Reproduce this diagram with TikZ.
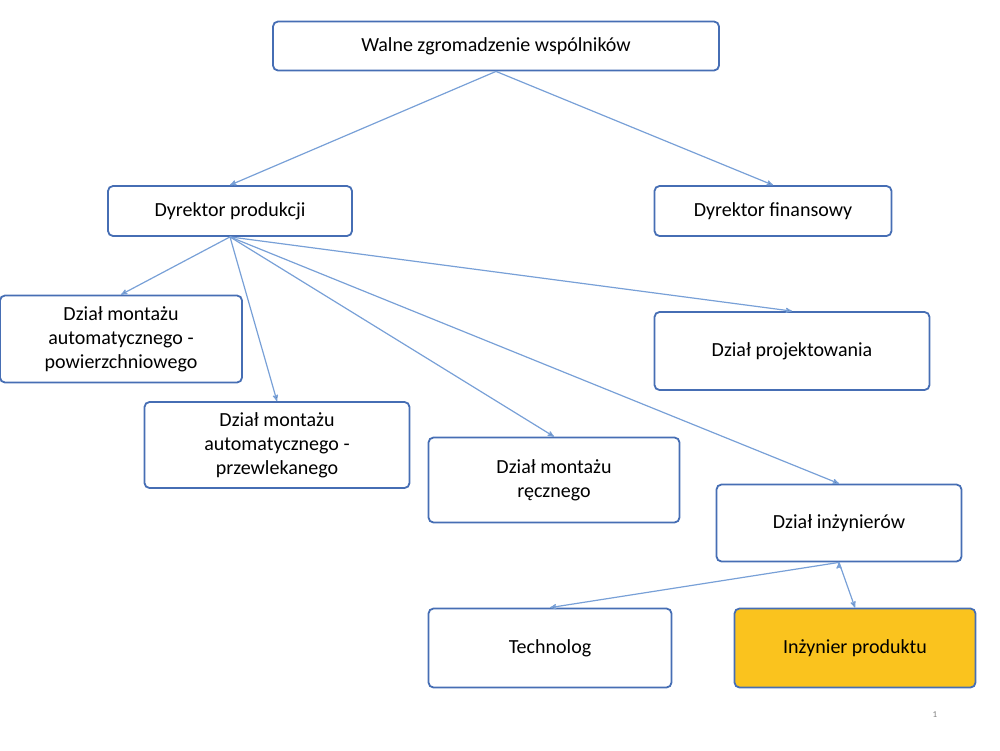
\documentclass[tikz,border=0pt]{standalone}
\usepackage{fontspec}
\setmainfont{Carlito}
\usetikzlibrary{arrows}
\definecolor{boxline}{RGB}{70,110,180}
\definecolor{arrowc}{RGB}{120,160,215}
\definecolor{gold}{RGB}{250,195,30}
\begin{document}
\begin{tikzpicture}[x=1pt,y=-1pt,->,>=stealth',thick,
  box/.style={draw=boxline,rounded corners=5pt,line width=1.8pt,fill=white,align=center,
    font=\fontsize{20}{24}\selectfont,inner sep=0pt},
  link/.style={draw=arrowc,line width=1.2pt}]
  \useasboundingbox (0,0) rectangle (1000,750);
  \node[box,minimum width=446,minimum height=49] (walne) at (496,46) {Walne zgromadzenie wspólników};
  \node[box,minimum width=244,minimum height=50] (dprod) at (230,211) {Dyrektor produkcji};
  \node[box,minimum width=237,minimum height=50] (dfin) at (773,211) {Dyrektor finansowy};
  \node[box,minimum width=242,minimum height=87] (pow) at (121,339) {Dział montażu\\automatycznego -\\powierzchniowego};
  \node[box,minimum width=265,minimum height=86] (prz) at (277,445) {Dział montażu\\automatycznego -\\przewlekanego};
  \node[box,minimum width=251,minimum height=85] (rec) at (554,480) {Dział montażu\\ręcznego};
  \node[box,minimum width=275,minimum height=78] (proj) at (792,351) {Dział projektowania};
  \node[box,minimum width=245,minimum height=77] (inz) at (839,523) {Dział inżynierów};
  \node[box,minimum width=243,minimum height=79] (tech) at (550,648) {Technolog};
  \node[box,fill=gold,minimum width=241,minimum height=79] (prod) at (855,648) {Inżynier produktu};
  \node[font=\fontsize{9}{11}\selectfont,text=gray] (num) at (935,715) {1};

  \path[link]
    (walne.south) edge (dprod.north)
    (walne.south) edge (dfin.north)
    (dprod.south) edge (pow.north)
    (dprod.south) edge (prz.north)
    (dprod.south) edge (rec.north)
    (dprod.south) edge (proj.north)
    (dprod.south) edge (inz.north)
    (inz.south) edge (tech.north)
    (inz.south) edge (prod.north);
\end{tikzpicture}
\end{document}
